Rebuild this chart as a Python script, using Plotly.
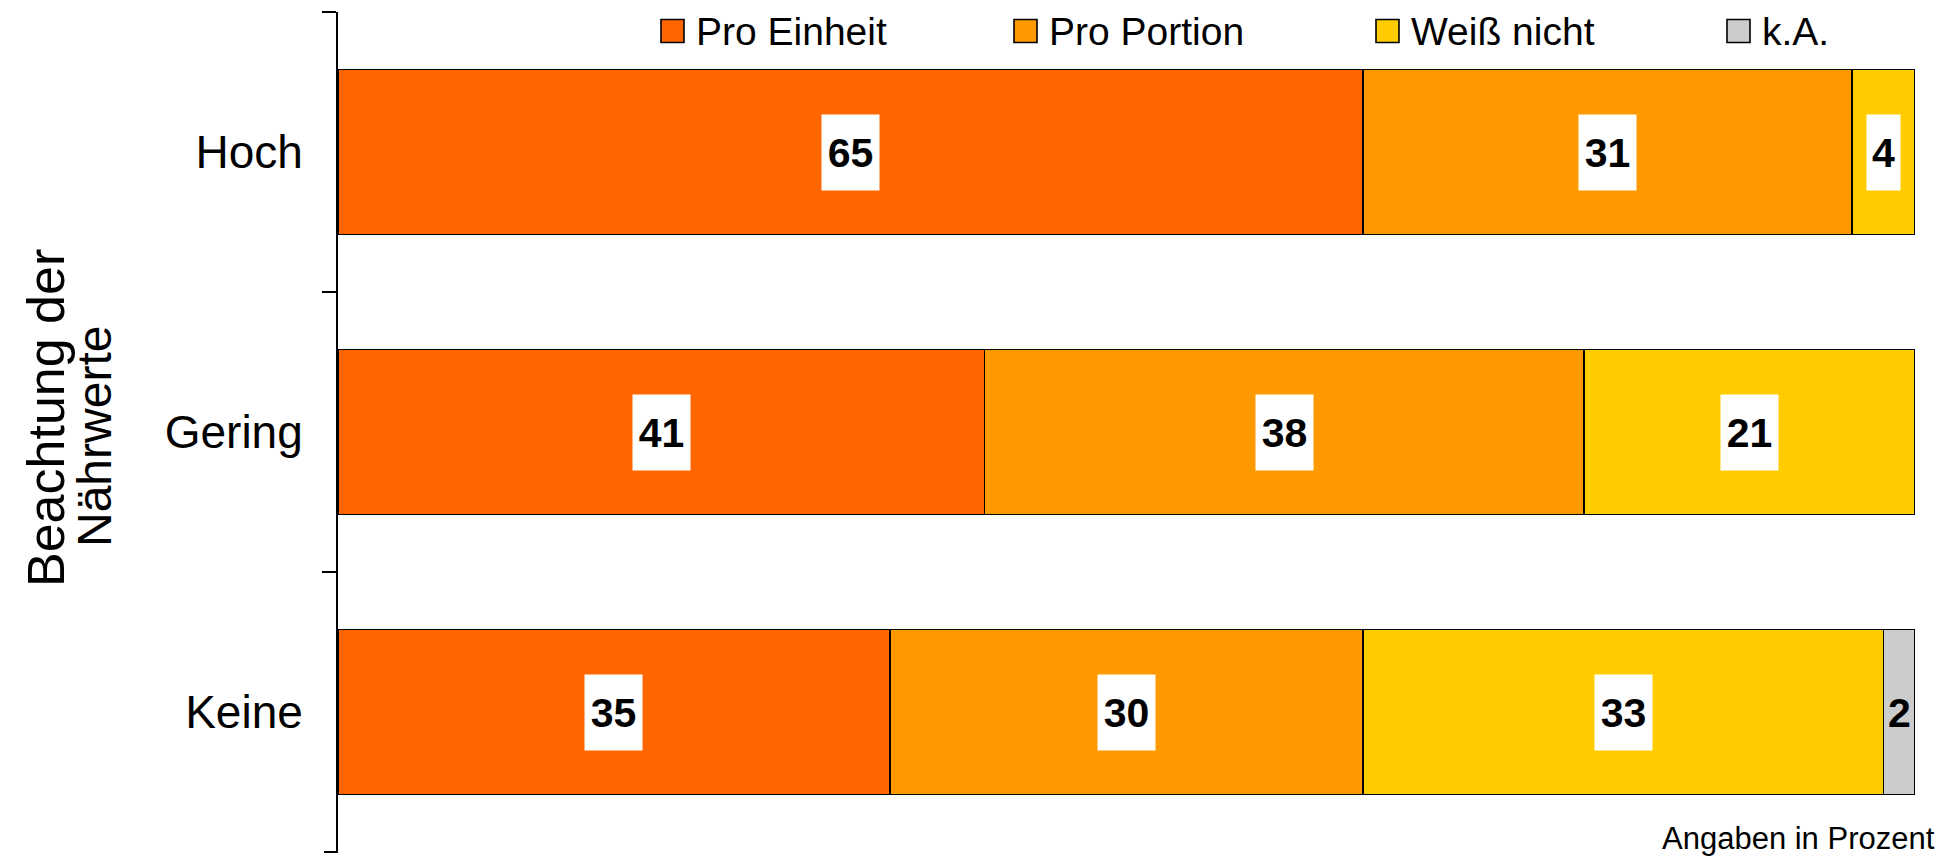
import plotly.graph_objects as go
import numpy as np

# Data
categories = ["Hoch", "Gering", "Keine"]
series_names = ["Pro Einheit", "Pro Portion", "Weiß nicht", "k.A."]
pro_einheit = [65, 41, 35]
pro_portion = [31, 38, 30]
weiss_nicht = [4, 21, 33]
k_a = [0, 0, 2]
series_values = [pro_einheit, pro_portion, weiss_nicht, k_a]

# Styling
colors = ["#FF6600", "#FF9900", "#FFCC00", "#CCCCCC"]
label_bg = ["white", "white", "white", "rgba(0,0,0,0)"]
FONT = "Liberation Sans, Arial, sans-serif"

W, H = 1959, 856
M_L, M_R, M_T, M_B = 338, 44, 12, 4
PW, PH = W - M_L - M_R, H - M_T - M_B
TICK_LEN = 14


def px_to_paper_x(px):
    return (px - M_L) / PW


def px_to_paper_y(py):
    return (H - M_B - py) / PH


fig = go.Figure()
for name, vals, col in zip(series_names, series_values, colors):
    fig.add_trace(go.Bar(
        y=categories, x=vals, name=name, orientation="h",
        marker=dict(color=col, line=dict(color="black", width=1.6)),
        showlegend=False, hoverinfo="x+name",
    ))

# Value labels in white boxes at the centre of each segment
cum = np.zeros(len(categories))
for s, (vals, bg) in enumerate(zip(series_values, label_bg)):
    vals = np.array(vals, dtype=float)
    centers = cum + vals / 2
    for cat, v, c in zip(categories, vals, centers):
        if v <= 0:
            continue
        txt = f"{int(v)}"
        fig.add_annotation(
            x=c, y=cat, xref="x", yref="y", text=f"<b>{txt}</b>",
            showarrow=False, font=dict(family=FONT, size=41, color="black"),
            bgcolor=bg, borderpad=0, width=9 + 24 * len(txt), height=75,
            xanchor="center", yanchor="middle",
        )
    cum += vals

# Legend row along the top
legend_left = [661, 1014, 1376, 1727]
legend_cy = 31
box = 23
for name, col, lx in zip(series_names, colors, legend_left):
    fig.add_shape(
        type="rect", xref="paper", yref="paper",
        x0=px_to_paper_x(lx), x1=px_to_paper_x(lx + box),
        y0=px_to_paper_y(legend_cy + box / 2), y1=px_to_paper_y(legend_cy - box / 2),
        fillcolor=col, line=dict(color="black", width=1.6), layer="above",
    )
    fig.add_annotation(
        x=px_to_paper_x(lx + 33), y=px_to_paper_y(legend_cy), xref="paper", yref="paper",
        text=name, showarrow=False, xanchor="left", yanchor="middle",
        font=dict(family=FONT, size=39, color="black"),
    )

# Closing tick at the lower end of the category axis
fig.add_shape(
    type="line", xref="paper", yref="paper",
    x0=-TICK_LEN / PW, x1=0, y0=0, y1=0,
    line=dict(color="black", width=2), layer="above",
)

# Axis title in two lines
fig.add_annotation(
    x=px_to_paper_x(46), y=px_to_paper_y(418), xref="paper", yref="paper",
    text="Beachtung der", textangle=-90, showarrow=False,
    xanchor="center", yanchor="middle", font=dict(family=FONT, size=52, color="black"),
)
fig.add_annotation(
    x=px_to_paper_x(94), y=px_to_paper_y(437), xref="paper", yref="paper",
    text="Nährwerte", textangle=-90, showarrow=False,
    xanchor="center", yanchor="middle", font=dict(family=FONT, size=48, color="black"),
)

# Footnote
fig.add_annotation(
    x=px_to_paper_x(1937), y=px_to_paper_y(838), xref="paper", yref="paper",
    text="Angaben in Prozent", showarrow=False, xanchor="right", yanchor="middle",
    font=dict(family=FONT, size=31, color="black"),
)

fig.update_layout(
    width=W, height=H, barmode="stack", bargap=0.41,
    margin=dict(l=M_L, r=M_R, t=M_T, b=M_B, autoexpand=False),
    paper_bgcolor="white", plot_bgcolor="white",
    font=dict(family=FONT, color="black"),
    xaxis=dict(range=[0, 100], visible=False, fixedrange=True),
    yaxis=dict(
        categoryorder="array", categoryarray=categories, range=[2.5, -0.5],
        showline=True, linecolor="black", linewidth=2,
        ticks="outside", tickson="boundaries", ticklen=TICK_LEN, tickwidth=2, tickcolor="black",
        ticklabelstandoff=24,
        tickfont=dict(family=FONT, size=46, color="black"),
        showgrid=False, zeroline=False, fixedrange=True,
    ),
)

fig.write_html("out.html")
